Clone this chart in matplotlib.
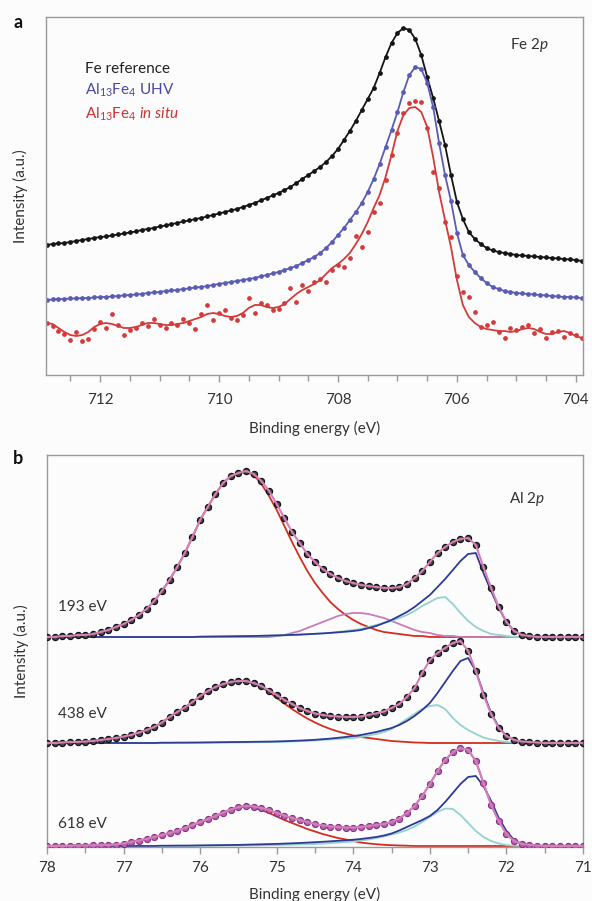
import numpy as np
import matplotlib
matplotlib.use("Agg")
import matplotlib.pyplot as plt
from matplotlib.ticker import MultipleLocator

plt.rcParams['font.family'] = ['Lato', 'DejaVu Sans']
plt.rcParams['mathtext.fontset'] = 'custom'
plt.rcParams['mathtext.rm'] = 'Lato'
plt.rcParams['mathtext.it'] = 'Lato:italic'
plt.rcParams['mathtext.bf'] = 'Lato:bold'

# ---------------- Panel a: Fe 2p ----------------
energy_a = np.round(np.arange(7129, 7038, -1) / 10, 1)   # 712.9 ... 703.9 eV

fe_ref = [130, 131, 131.5, 132, 133, 134, 135, 136, 137, 138,
          138.5, 139.5, 140.5, 141.5, 142.5, 143.5, 145, 146, 147, 148.5,
          149.5, 151, 152, 153.5, 154.5, 156, 157, 158.5, 160, 161.5,
          163, 164.5, 166, 168, 170, 172, 174.5, 177, 179.5, 182,
          185, 188, 192, 196, 200, 204, 208, 213, 219, 226,
          235, 244, 254, 265, 276, 287, 302, 318, 332, 342,
          347, 345, 336, 320, 298, 277, 254, 230, 200, 173,
          156, 143, 136, 131, 127, 124.5, 123, 122, 121, 120,
          119.5, 119, 118.5, 118, 117.5, 117, 116.5, 116, 115.5, 115,
          114]

uhv = [75, 75.5, 76, 76, 76.5, 76.5, 77, 77, 77.5, 78,
       78, 78.5, 79, 79.5, 80, 80.5, 81, 82, 82.5, 83,
       84, 84.5, 85, 86, 86.5, 87.5, 88, 89, 90, 91,
       92, 93, 94, 95, 96, 97, 98.5, 100, 101.5, 103,
       105, 107, 109, 112, 115, 118, 122, 127, 133, 140,
       147, 155, 163, 172, 183, 196, 211, 228, 245, 263,
       283, 300, 308, 306, 292, 268, 232, 200, 174, 142,
       120, 110, 103, 97, 92, 88, 86, 84, 83, 82,
       81.5, 81, 80.5, 80, 79.5, 79, 78.5, 78, 78, 77.5,
       77]

insitu_fit = [52, 51, 47, 43, 40, 39, 40, 43, 48, 51,
              52, 51, 49, 47, 47, 48, 50, 52, 52, 51,
              50, 50, 51, 52, 54, 56, 58, 61, 62, 61,
              59, 58, 59, 62, 67, 70, 70, 68, 67, 68,
              71, 76, 81, 85, 88, 91, 95, 101, 107, 111,
              116, 122, 131, 141, 153, 167, 180, 198, 220, 244,
              260, 267, 268, 263, 248, 218, 183, 155, 128, 95,
              70, 58, 52, 48, 46, 45, 44, 44, 43, 44,
              46, 47, 46, 43, 41, 41, 43, 44, 42, 39,
              37]

insitu_dots = [52, 49, 44, 41, 35, 43, 34, 36, 46, 53,
               47, 61, 50, 40, 45, 47, 52, 49, 56, 50,
               47, 52, 50, 56, 52, 46, 61, 70, 55, 62,
               65, 57, 55, 60, 77, 62, 72, 70, 65, 66,
               72, 87, 73, 90, 84, 93, 96, 93, 105, 110,
               108, 117, 139, 128, 143, 163, 172, 195, 220, 242,
               262, 272, 274, 273, 247, 203, 187, 153, 138, 99,
               83, 78, 63, 48, 50, 53, 43, 37, 47, 45,
               48, 50, 42, 46, 37, 43, 44, 38, 42, 40,
               37]

# ---------------- Panel b: Al 2p ----------------
energy_b = np.round(np.arange(780, 709, -1) / 10, 1)      # 78.0 ... 71.0 eV
photon_labels = ['193 eV', '438 eV', '618 eV']
offsets_b = [210, 104, 1]

data_193 = [0, 0, 1, 1, 2, 2, 3, 5, 7, 10,
            13, 17, 22, 28, 36, 46, 57, 70, 84, 100,
            117, 130, 143, 154, 161, 164, 166, 163, 156, 146,
            133, 119, 105, 94, 83, 75, 68, 63, 59, 56,
            54, 52, 51, 50, 49, 49, 50, 53, 59, 66,
            75, 84, 90, 95, 98, 99, 92, 70, 49, 30,
            15, 6, 2, 1, 0, 0, 0, 0, 0, 0,
            0]
red_193 = [0, 0, 1, 1, 2, 2, 3, 5, 7, 10,
           13, 17, 22, 28, 36, 46, 57, 70, 84, 100,
           117, 130, 143, 154, 161, 164, 165, 162, 153, 141,
           127, 111, 95, 80, 66, 54, 44, 35, 28, 22,
           17, 13, 10, 7, 5, 4, 3, 2, 1, 1,
           0, 0, 0, 0, 0, 0, 0, 0, 0, 0,
           0, 0, 0, 0, 0, 0, 0, 0, 0, 0,
           0]
mag_193 = [0, 0, 0, 0, 0, 0, 0, 0, 0, 0,
           0, 0, 0, 0, 0, 0, 0, 0, 0, 0,
           0, 0, 0, 0, 0, 0, 0, 0, 0, 0,
           1, 2, 4, 6, 9, 12, 15, 18, 21, 23,
           24, 24, 23, 21, 19, 16, 13, 10, 7, 5,
           4, 2, 1, 1, 0, 0, 0, 0, 0, 0,
           0, 0, 0, 0, 0, 0, 0, 0, 0, 0,
           0]
cyan_193 = [0, 0, 0, 0, 0, 0, 0, 0, 0, 0,
            0, 0, 0, 0, 0, 0, 0, 0, 0, 0,
            0.3, 0.4, 0.5, 0.6, 0.7, 0.8, 0.9, 1.0, 1.1, 1.3,
            1.5, 1.7, 2, 2.3, 2.7, 3.1, 3.6, 4.2, 5, 6,
            7, 8, 10, 12, 14, 16, 19, 22, 26, 31,
            35, 39, 40, 33, 24, 16, 10, 6, 3, 2,
            1, 0, 0, 0, 0, 0, 0, 0, 0, 0,
            0]
blue_193 = [0, 0, 0, 0, 0, 0, 0, 0, 0, 0,
            0, 0, 0, 0, 0, 0, 0, 0, 0, 0,
            0.3, 0.4, 0.5, 0.6, 0.7, 0.8, 0.9, 1.0, 1.2, 1.4,
            1.6, 1.8, 2.1, 2.4, 2.8, 3.2, 3.6, 4.1, 4.7, 5.3,
            6, 7, 9, 11, 14, 17, 21, 25, 30, 36,
            42, 50, 58, 67, 76, 83, 84, 64, 46, 29,
            15, 6, 2, 1, 0, 0, 0, 0, 0, 0,
            0]

data_438 = [0, 0, 0.5, 1, 1, 1.5, 2, 3, 4, 5,
            6.5, 8, 10.5, 13, 16, 20.5, 26, 31, 35.5, 41,
            47, 52, 56, 59, 61, 62, 62, 60, 57, 52.5,
            48, 43, 39, 35, 32, 29.5, 28, 27, 26.5, 26,
            26, 26.5, 28, 29.5, 31.5, 35, 39, 46, 55, 70,
            83, 90, 95, 100, 102, 92, 72, 48, 29, 15,
            7, 3, 1.5, 1, 0.5, 0, 0, 0, 0, 0,
            0]
red_438 = [0, 0, 0.5, 1, 1, 1.5, 2, 3, 4, 5,
           6.5, 8, 10.5, 13, 16, 20.5, 26, 31, 35.5, 41,
           46.5, 51.5, 55.5, 58.5, 60.5, 61.5, 61.5, 59, 56, 51,
           45, 39.5, 34, 29, 24.5, 20.5, 17, 14, 11.5, 9.5,
           7.5, 6, 5, 4, 3, 2, 1.5, 1, 0.5, 0.3,
           0, 0, 0, 0, 0, 0, 0, 0, 0, 0,
           0, 0, 0, 0, 0, 0, 0, 0, 0, 0,
           0]
cyan_438 = [0, 0, 0, 0, 0, 0, 0, 0, 0, 0,
            0, 0, 0, 0, 0, 0, 0, 0, 0, 0,
            0.3, 0.35, 0.4, 0.45, 0.5, 0.55, 0.6, 0.7, 0.8, 0.9,
            1.0, 1.2, 1.5, 1.8, 2.1, 2.5, 3, 3.5, 4, 4.5,
            5, 6, 7.5, 9, 11, 14, 19, 24, 29, 34,
            37, 38, 34, 25, 18, 13, 9, 5.5, 3.5, 2,
            1, 0.5, 0, 0, 0, 0, 0, 0, 0, 0,
            0]
blue_438 = [0, 0, 0, 0, 0, 0, 0, 0, 0, 0,
            0, 0, 0, 0, 0, 0.3, 0.3, 0.4, 0.4, 0.5,
            0.5, 0.6, 0.7, 0.8, 0.9, 1.0, 1.1, 1.2, 1.3, 1.4,
            1.6, 1.8, 2.1, 2.4, 2.8, 3.2, 3.8, 4.4, 5.2, 6,
            7, 8, 9.5, 11, 13, 15, 18, 22, 27, 33,
            40, 50, 61, 72, 82, 85, 72, 50, 30, 16,
            7, 3, 1, 0.5, 0, 0, 0, 0, 0, 0,
            0]

data_618 = [0, 0, 0, 0.3, 0.5, 0.5, 0.7, 0.8, 1, 1.5,
            2.5, 4, 5.5, 7, 9, 11, 13, 15, 18, 21,
            24, 27, 30, 33.5, 36.5, 39, 40, 39.5, 38, 36,
            33, 30.5, 28, 26, 24, 22, 20.5, 19.5, 19, 18.5,
            18.5, 19, 20, 21, 22, 24, 27.5, 33, 40, 50,
            62, 75, 86, 94, 98, 96, 85, 63, 41, 25,
            12, 5, 2, 1, 0.5, 0, 0, 0, 0, 0,
            0]
red_618 = [0, 0, 0, 0.3, 0.5, 0.5, 0.7, 0.8, 1, 1.5,
           2.5, 4, 5.5, 7, 9, 11, 13, 15, 18, 21,
           23.5, 26.5, 29.5, 33, 36, 38.5, 39.5, 38.5, 36, 33,
           29.5, 26, 23, 20, 17, 14.5, 12, 10, 8, 6.5,
           5, 3.5, 2.5, 1.8, 1.2, 0.8, 0.5, 0.3, 0, 0,
           0, 0, 0, 0, 0, 0, 0, 0, 0, 0,
           0, 0, 0, 0, 0, 0, 0, 0, 0, 0,
           0]
cyan_618 = [0, 0, 0, 0, 0, 0, 0, 0, 0, 0,
            0, 0, 0, 0, 0, 0, 0, 0, 0, 0,
            0.3, 0.35, 0.4, 0.45, 0.5, 0.55, 0.6, 0.7, 0.8, 0.9,
            1.0, 1.2, 1.4, 1.6, 1.8, 2.0, 2.4, 2.9, 3.4, 3.9,
            4.5, 5.5, 6.5, 8, 9.5, 11.5, 13.5, 16, 19.5, 24,
            29, 34, 37.5, 37, 31, 23, 15, 9, 5, 2.5,
            1, 0.3, 0, 0, 0, 0, 0, 0, 0, 0,
            0]
blue_618 = [0, 0, 0, 0, 0, 0, 0, 0, 0, 0,
            0, 0, 0, 0, 0, 0.3, 0.3, 0.4, 0.4, 0.5,
            0.6, 0.7, 0.8, 0.9, 1.0, 1.1, 1.3, 1.5, 1.7, 1.9,
            2.1, 2.4, 2.7, 3.0, 3.4, 3.8, 4.2, 4.7, 5.2, 5.7,
            6.3, 7, 8, 9, 10.5, 12.5, 15.5, 19, 22.5, 26,
            30, 36, 44, 53, 62, 69, 70, 60, 45, 28,
            15, 6, 2, 0.8, 0, 0, 0, 0, 0, 0,
            0]

spectra_b = [
    dict(data=data_193, red=red_193, mag=mag_193, cyan=cyan_193, blue=blue_193),
    dict(data=data_438, red=red_438, mag=None, cyan=cyan_438, blue=blue_438),
    dict(data=data_618, red=red_618, mag=None, cyan=cyan_618, blue=blue_618),
]

# ---------------- Figure ----------------
BG = '#fcfcfc'
fig = plt.figure(figsize=(5.92, 9.01), dpi=100, facecolor=BG)
W, H = 592.0, 901.0

def axes_px(l, t, r, b):
    return fig.add_axes([l / W, 1 - b / H, (r - l) / W, (b - t) / H])

axa = axes_px(46, 17, 583, 375)
axb = axes_px(47, 455, 583, 847)

SPINE = '#9a9a9a'
TXT = '#333333'
for ax, tpad, lpad in ((axa, 8, 10), (axb, 5, 9)):
    ax.set_facecolor(BG)
    for s in ax.spines.values():
        s.set_color(SPINE)
        s.set_linewidth(1.0)
    ax.set_yticks([])
    ax.tick_params(axis='x', which='both', direction='out', colors=SPINE,
                   labelcolor=TXT, labelsize=11, pad=tpad)
    ax.tick_params(axis='x', which='major', length=5, width=1)
    ax.tick_params(axis='x', which='minor', length=4, width=1)
    ax.set_ylabel('Intensity (a.u.)', fontsize=11, color=TXT, labelpad=13)
    ax.set_xlabel('Binding energy (eV)', fontsize=11, color=TXT, labelpad=lpad)

# Panel a
C_BLACK = '#151515'
C_UHV = '#5b5bb5'
C_INSITU = '#d43a3a'
axa.plot(energy_a, fe_ref, color=C_BLACK, lw=1.3)
axa.plot(energy_a, fe_ref, 'o', color=C_BLACK, ms=2.4)
axa.plot(energy_a, uhv, color=C_UHV, lw=1.3)
axa.plot(energy_a, uhv, 'o', color=C_UHV, ms=2.4)
axa.plot(energy_a, insitu_fit, color=C_INSITU, lw=1.3)
axa.plot(energy_a, insitu_dots, 'o', color=C_INSITU, ms=2.4)
axa.set_xlim(712.91, 703.88)
axa.set_ylim(0, 358)
axa.xaxis.set_major_locator(MultipleLocator(2))
axa.xaxis.set_minor_locator(MultipleLocator(0.5))

axa.text(0.0726, 0.8436, 'Fe reference', transform=axa.transAxes,
         fontsize=11, color='#222222', va='baseline')
axa.text(0.0726, 0.782, r'Al$_{13}$Fe$_{4}$ UHV', transform=axa.transAxes,
         fontsize=11, color='#4a4aa0', va='baseline')
axa.text(0.0726, 0.715, r'Al$_{13}$Fe$_{4}$ $\mathit{in\ situ}$', transform=axa.transAxes,
         fontsize=11, color='#cc3333', va='baseline')
axa.text(0.864, 0.91, r'Fe 2$\mathit{p}$', transform=axa.transAxes,
         fontsize=11, color=TXT, va='baseline')

# Panel b
C_RED = '#d42d20'
C_MAG = '#c87bbb'
C_CYAN = '#93d2cf'
C_BLUE = '#2e3b96'
C_ENV = '#d57fb6'
for spec, off, lab in zip(spectra_b, offsets_b, photon_labels):
    def shifted(v):
        return np.asarray(v, dtype=float) + off
    axb.plot(energy_b, shifted(spec['red']), color=C_RED, lw=1.3, zorder=2)
    if spec['mag'] is not None:
        axb.plot(energy_b, shifted(spec['mag']), color=C_MAG, lw=1.3, zorder=2)
    axb.plot(energy_b, shifted(spec['cyan']), color=C_CYAN, lw=1.3, zorder=2)
    axb.plot(energy_b, shifted(spec['blue']), color=C_BLUE, lw=1.3, zorder=2)
    if lab == '618 eV':
        axb.plot(energy_b, shifted(spec['data']), 'o-', color='#9b3d98', lw=1.2,
                 ms=4.4, mfc='#b066b0', mec='#8a2c88', mew=0.8, zorder=3)
    else:
        axb.plot(energy_b, shifted(spec['data']), 'o', ms=4.4, mfc='#4a4a4a',
                 mec='#111111', mew=0.9, zorder=3)
    axb.plot(energy_b, shifted(spec['data']), color=C_ENV, lw=1.5, zorder=4)

axb.set_xlim(78, 71)
axb.set_ylim(0, 392)
axb.xaxis.set_major_locator(MultipleLocator(1))
axb.xaxis.set_minor_locator(MultipleLocator(0.5))

label_y_px = [611, 718, 828]
for lab, ypx in zip(photon_labels, label_y_px):
    axb.text((58 - 47) / 536, (847 - ypx) / 392, lab, transform=axb.transAxes,
             fontsize=11, color=TXT, va='baseline')
axb.text((509 - 47) / 536, (847 - 503) / 392, r'Al 2$\mathit{p}$', transform=axb.transAxes,
         fontsize=11, color=TXT, va='baseline')

fig.text(13 / W, 1 - 28 / H, 'a', fontsize=13, fontweight='bold', color='#111111', va='baseline')
fig.text(13 / W, 1 - 464 / H, 'b', fontsize=13, fontweight='bold', color='#111111', va='baseline')

fig.savefig('out.png', dpi=100, facecolor=BG)
